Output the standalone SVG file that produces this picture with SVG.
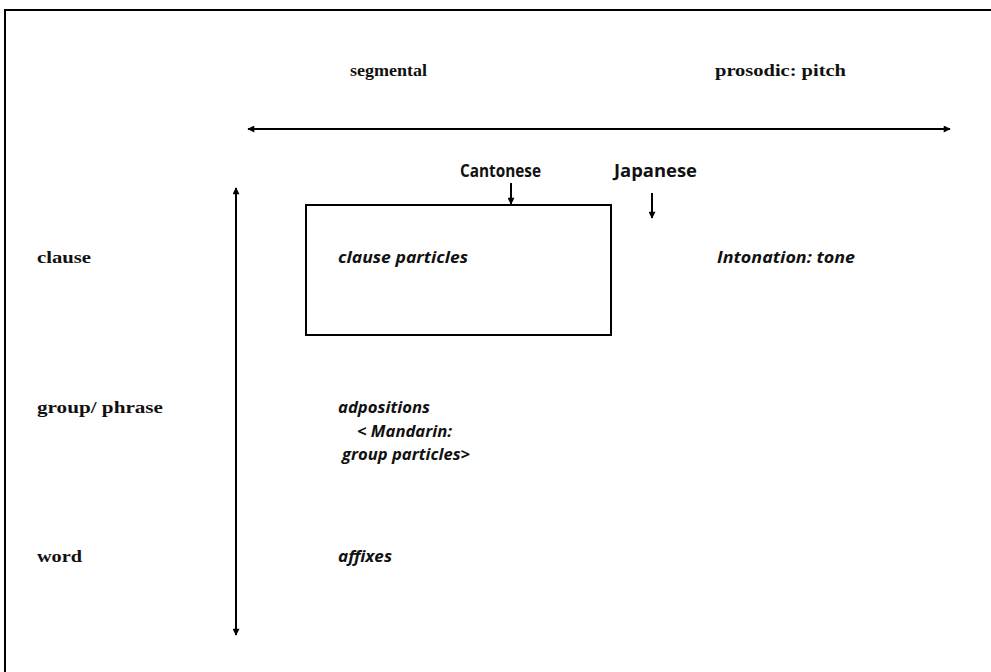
<svg xmlns="http://www.w3.org/2000/svg" width="991" height="672" viewBox="0 0 991 672">
<defs>
<marker id="ah" viewBox="0 0 10 10" refX="9" refY="5" markerWidth="9" markerHeight="7" markerUnits="userSpaceOnUse" orient="auto-start-reverse">
<path d="M0,0 L10,5 L0,10 z" fill="#000"/>
</marker>
<style>
.lbl{font-family:"Liberation Serif","DejaVu Serif",serif;font-size:17px;font-weight:bold;fill:#111}
.hd{font-family:"Open Sans","Liberation Sans",sans-serif;font-size:17px;font-weight:bold;fill:#111}
.it{font-family:"Open Sans","Liberation Sans",sans-serif;font-size:16px;font-weight:bold;font-style:italic;fill:#111}
.ln{stroke:#000;stroke-width:2;fill:none}
</style>
</defs>
<rect width="991" height="672" fill="#fff"/>
<path d="M5,672 L5,10 L991,10" stroke="#000" stroke-width="2" fill="none"/>
<g id="axis-labels">
<text class="lbl" x="350" y="76" textLength="77" lengthAdjust="spacingAndGlyphs">segmental</text>
<text class="lbl" x="715" y="76" textLength="131" lengthAdjust="spacingAndGlyphs">prosodic: pitch</text>
</g>
<g id="row-clause"><text class="lbl" x="37" y="263" textLength="54" lengthAdjust="spacingAndGlyphs">clause</text></g>
<g id="row-group"><text class="lbl" x="37" y="413" textLength="126" lengthAdjust="spacingAndGlyphs">group/ phrase</text></g>
<g id="row-word"><text class="lbl" x="37" y="562" textLength="45" lengthAdjust="spacingAndGlyphs">word</text></g>
<g id="cantonese"><text class="hd" x="460" y="177" textLength="81" lengthAdjust="spacingAndGlyphs">Cantonese</text></g>
<g id="japanese"><text class="hd" x="614" y="177" textLength="83" lengthAdjust="spacingAndGlyphs">Japanese</text></g>
<g id="box"><rect x="306" y="205" width="305" height="130" class="ln"/></g>
<g id="clause-particles"><text class="it" x="338" y="263" textLength="130" lengthAdjust="spacingAndGlyphs">clause particles</text></g>
<g id="intonation"><text class="it" x="717" y="263" textLength="138" lengthAdjust="spacingAndGlyphs">Intonation: tone</text></g>
<g id="adpositions"><text class="it" x="338" y="413" textLength="92" lengthAdjust="spacingAndGlyphs">adpositions</text></g>
<g id="mandarin">
<text class="it" x="357" y="437" textLength="95" lengthAdjust="spacingAndGlyphs">&lt; Mandarin:</text>
<text class="it" x="342" y="460" textLength="128" lengthAdjust="spacingAndGlyphs">group particles&gt;</text>
</g>
<g id="affixes"><text class="it" x="338" y="562" textLength="54" lengthAdjust="spacingAndGlyphs">affixes</text></g>
<g id="connectors">
<line x1="248" y1="129" x2="950" y2="129" class="ln" marker-start="url(#ah)" marker-end="url(#ah)"/>
<line x1="236" y1="188" x2="236" y2="635" class="ln" marker-start="url(#ah)" marker-end="url(#ah)"/>
<line x1="511" y1="183" x2="511" y2="204" class="ln" marker-end="url(#ah)"/>
<line x1="652" y1="193" x2="652" y2="218" class="ln" marker-end="url(#ah)"/>
</g>
</svg>
